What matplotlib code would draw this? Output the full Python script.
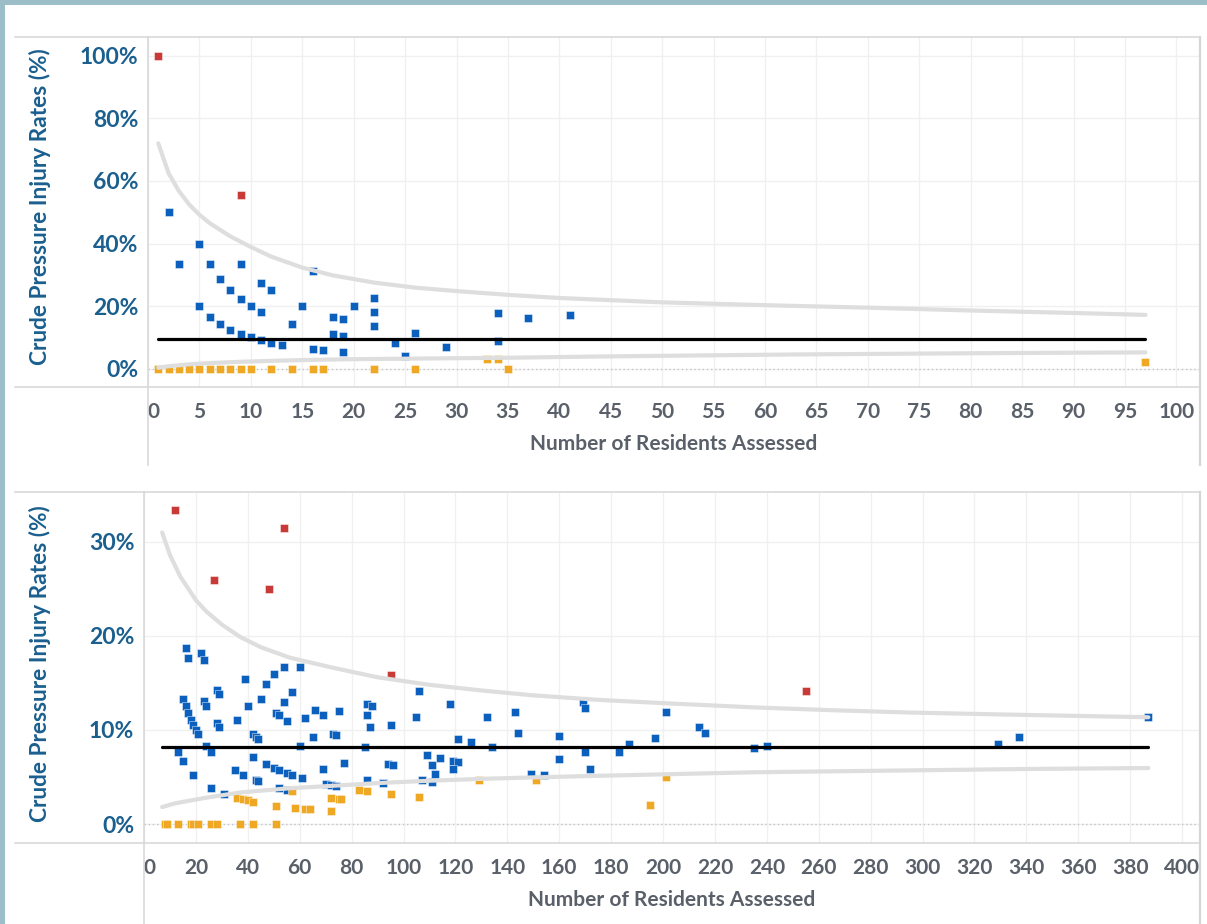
import matplotlib
matplotlib.use("Agg")
import matplotlib.pyplot as plt
import numpy as np
from matplotlib.lines import Line2D
from matplotlib.patches import Rectangle

# ---------------- data: top panel ----------------
top_red_n = [1, 9]
top_red_k = [1, 5]
top_blue_n = [2, 3, 5, 6, 9, 7, 8, 9, 5, 6, 7, 8, 9, 10, 10, 11, 11, 11, 12, 12, 13, 14,
              15, 16, 16, 17, 18, 18, 19, 19, 19, 20, 22, 22, 22, 24, 25, 26, 29, 34, 34, 37, 41]
top_blue_k = [1, 1, 2, 2, 3, 2, 2, 2, 1, 1, 1, 1, 1, 2, 1, 3, 2, 1, 3, 1, 1, 2,
              3, 5, 1, 1, 3, 2, 3, 2, 1, 4, 5, 4, 3, 2, 1, 3, 2, 6, 3, 6, 7]
top_yellow_n = [1, 2, 3, 4, 5, 6, 7, 8, 9, 10, 12, 14, 16, 17, 22, 26, 35, 33, 34, 97]
top_yellow_k = [0, 0, 0, 0, 0, 0, 0, 0, 0, 0, 0, 0, 0, 0, 0, 0, 0, 1, 1, 2]
top_mean = 9.5
top_mean_n = [1, 97]
top_upper_n = [1, 2, 3, 4, 5, 6, 8, 10, 12, 15, 18, 22, 26, 30, 35, 40, 50, 60, 70, 80, 90, 97]
top_upper_v = [72, 62.5, 56.8, 52.5, 49.2, 46.5, 42.3, 38.9, 35.8, 32.3, 29.8, 27.5, 25.9,
               24.8, 23.6, 22.6, 21.2, 20.3, 19.5, 18.6, 17.8, 17.2]
top_lower_n = [1, 2, 4, 6, 9, 12, 15, 19, 25, 30, 35, 44, 54, 63, 76, 89, 97]
top_lower_v = [0.3, 0.8, 1.4, 1.8, 2.2, 2.5, 2.75, 3.0, 3.2, 3.35, 3.5, 3.9, 4.25, 4.55,
               4.85, 5.1, 5.2]
top_xticks = list(range(0, 101, 5))
top_yticks = [0, 20, 40, 60, 80, 100]

# ---------------- data: bottom panel ----------------
bot_red_n = [12, 27, 48, 54, 95, 255]
bot_red_k = [4, 7, 12, 17, 15, 36]
bot_blue_n = [16, 17, 22, 23, 54, 60, 50, 39, 47, 57, 28, 29, 15, 45, 54, 23, 24, 16, 40, 17,
              18, 19, 20, 21, 28, 29, 36, 51, 52, 55, 62, 66, 69, 75, 42, 43, 44, 65, 73, 74,
              24, 60, 13, 26, 15, 42, 19, 35, 38, 47, 50, 52, 55, 57, 61, 43, 44, 69, 70, 72,
              26, 31, 52, 55, 74,
              106, 86, 88, 118, 143, 86, 87, 95, 105, 132, 144, 160, 169, 170, 85, 121, 126,
              134, 170, 183, 187, 77, 94, 96, 109, 114, 111, 119, 121, 119, 112, 160, 172, 149,
              154, 86, 92, 107, 111,
              201, 197, 214, 216, 235, 240, 329, 337, 387]
bot_blue_k = [3, 3, 4, 4, 9, 10, 8, 6, 7, 8, 4, 4, 2, 6, 7, 3, 3, 2, 5, 2,
              2, 2, 2, 2, 3, 3, 4, 6, 6, 6, 7, 8, 8, 9, 4, 4, 4, 6, 7, 7,
              2, 5, 1, 2, 1, 3, 1, 2, 2, 3, 3, 3, 3, 3, 3, 2, 2, 4, 3, 3,
              1, 1, 2, 2, 3,
              15, 11, 11, 15, 17, 10, 9, 10, 12, 15, 14, 15, 22, 21, 7, 11, 11,
              11, 13, 14, 16, 5, 6, 6, 8, 8, 7, 8, 8, 7, 6, 11, 10, 8,
              8, 4, 4, 5, 5,
              24, 18, 22, 21, 19, 20, 28, 31, 44]
bot_yellow_n = [8, 9, 13, 18, 19, 21, 26, 28, 37, 42, 51,
                36, 38, 40, 42, 51, 58, 62, 64, 72, 72, 75, 76, 83, 86, 95, 106, 57, 129, 151,
                195, 201]
bot_yellow_k = [0, 0, 0, 0, 0, 0, 0, 0, 0, 0, 0,
                1, 1, 1, 1, 1, 1, 1, 1, 2, 1, 2, 2, 3, 3, 3, 3, 2, 6, 7, 4, 10]
bot_mean = 8.2
bot_mean_n = [7, 387]
bot_upper_n = [7, 10, 14, 20, 24, 30, 37, 45, 56, 73, 90, 110, 130, 149, 175, 200, 235, 265,
               295, 339, 387]
bot_upper_v = [31.0, 28.6, 26.3, 23.8, 22.6, 21.2, 19.9, 18.8, 17.7, 16.6, 15.6, 14.8, 14.2,
               13.7, 13.2, 12.85, 12.4, 12.1, 11.85, 11.6, 11.35]
bot_lower_n = [7, 12, 18, 24, 37, 56, 75, 90, 110, 130, 149, 187, 235, 295, 340, 387]
bot_lower_v = [1.8, 2.2, 2.5, 2.8, 3.35, 3.8, 4.1, 4.35, 4.6, 4.8, 4.95, 5.2, 5.5, 5.7,
               5.85, 5.95]
bot_xticks = list(range(0, 401, 20))
bot_yticks = [0, 10, 20, 30]

# ---------------- style ----------------
W, H = 1207, 924
BLUE = "#0b5fbd"
RED = "#c83a38"
YELLOW = "#efa823"
CURVE = "#dedede"
GRID = "#f0f0f0"
FRAME = "#d6d6d6"
YTXT = "#1a5f8e"
XTXT = "#5a6069"
FONT = "Lato"

fig = plt.figure(figsize=(W / 100, H / 100), dpi=100)
fig.patch.set_facecolor("white")


def fx(px):
    return px / W


def fy(py):
    return 1 - py / H


def rates(n, k):
    return [100.0 * kk / nn for nn, kk in zip(n, k)]


def panel(rect_px, xlim, ylim, xticks, yticks, red, blue, yellow, mean, mean_n,
          up_n, up_v, lo_n, lo_v, ylab_y, xlab_y):
    l, t, r, b = rect_px
    ax = fig.add_axes([fx(l), fy(b), fx(r) - fx(l), fy(t) - fy(b)])
    ax.set_xlim(*xlim)
    ax.set_ylim(*ylim)
    for s in ax.spines.values():
        s.set_visible(False)
    ax.set_xticks(xticks)
    ax.set_yticks(yticks)
    ax.set_xticklabels([str(v) for v in xticks])
    ax.set_yticklabels([f"{v}%" for v in yticks])
    ax.tick_params(length=0)
    ax.tick_params(axis="x", pad=11, labelsize=15, labelcolor=XTXT)
    ax.tick_params(axis="y", pad=7, labelsize=16.5, labelcolor=YTXT)
    for lab in ax.get_xticklabels() + ax.get_yticklabels():
        lab.set_fontfamily(FONT)
        lab.set_fontweight("bold")
    ax.get_xticklabels()[0].set_horizontalalignment("left")
    ax.grid(True, color=GRID, lw=1.0, zorder=0)
    ax.set_axisbelow(True)
    ax.axhline(0, color="#c4c4c4", lw=1.0, ls=(0, (1, 2)), zorder=1)

    ms = 30
    for (n, k), col in ((blue, BLUE), (red, RED), (yellow, YELLOW)):
        ax.scatter(n, rates(n, k), marker="s", s=ms, color=col,
                   edgecolors=(1, 1, 1, 0.45), linewidths=0.7, zorder=2)
    ax.plot(up_n, up_v, color=CURVE, lw=3.0, solid_capstyle="round", zorder=3)
    ax.plot(lo_n, lo_v, color=CURVE, lw=3.0, solid_capstyle="round", zorder=3)
    ax.plot(mean_n, [mean, mean], color="black", lw=2.3, solid_capstyle="round", zorder=4)

    fig.text(fx(40), fy(ylab_y), "Crude Pressure Injury Rates (%)", rotation=90,
             ha="center", va="center", color=YTXT, fontsize=16.3, fontfamily=FONT,
             fontweight="bold")
    fig.text(fx((l + r) / 2), fy(xlab_y), "Number of Residents Assessed", ha="center",
             va="center", color=XTXT, fontsize=15, fontfamily=FONT, fontweight="bold")
    return ax


# top panel: x=0 at px 148.5, 10.28 px/unit; y=0 at py 368.7, 3.13 px/%
panel((148, 37, 1200, 387), (0, 102.3), (-5.85, 106.0), top_xticks, top_yticks,
      (top_red_n, top_red_k), (top_blue_n, top_blue_k), (top_yellow_n, top_yellow_k),
      top_mean, top_mean_n, top_upper_n, top_upper_v, top_lower_n, top_lower_v, 207, 444)

# bottom panel: x=0 at px 144, 2.595 px/unit; y=0 at py 824, 9.4 px/%
panel((144, 492, 1200, 843), (0, 406.9), (-2.02, 35.3), bot_xticks, bot_yticks,
      (bot_red_n, bot_red_k), (bot_blue_n, bot_blue_k), (bot_yellow_n, bot_yellow_k),
      bot_mean, bot_mean_n, bot_upper_n, bot_upper_v, bot_lower_n, bot_lower_v, 664, 900)


def hline(y, x0, x1, col=FRAME, lw=1.1):
    fig.add_artist(Line2D([fx(x0), fx(x1)], [fy(y), fy(y)], color=col, lw=lw))


def vline(x, y0, y1, col=FRAME, lw=1.1):
    fig.add_artist(Line2D([fx(x), fx(x)], [fy(y0), fy(y1)], color=col, lw=lw))


hline(37, 15, 1200)
hline(387, 15, 1200)
vline(148, 37, 465)
vline(1200, 37, 465, lw=1.6)
hline(492, 15, 1200)
hline(843, 15, 1200)
vline(144, 492, 924)
vline(1200, 492, 924, lw=1.6)

# outer tinted border (top and left)
BAND = "#9bbec8"
fig.add_artist(Rectangle((0, fy(5)), 1, 5 / H, transform=fig.transFigure, color=BAND, lw=0))
fig.add_artist(Rectangle((0, 0), 5 / W, 1, transform=fig.transFigure, color=BAND, lw=0))

fig.savefig("out.png", dpi=100, facecolor="white")
